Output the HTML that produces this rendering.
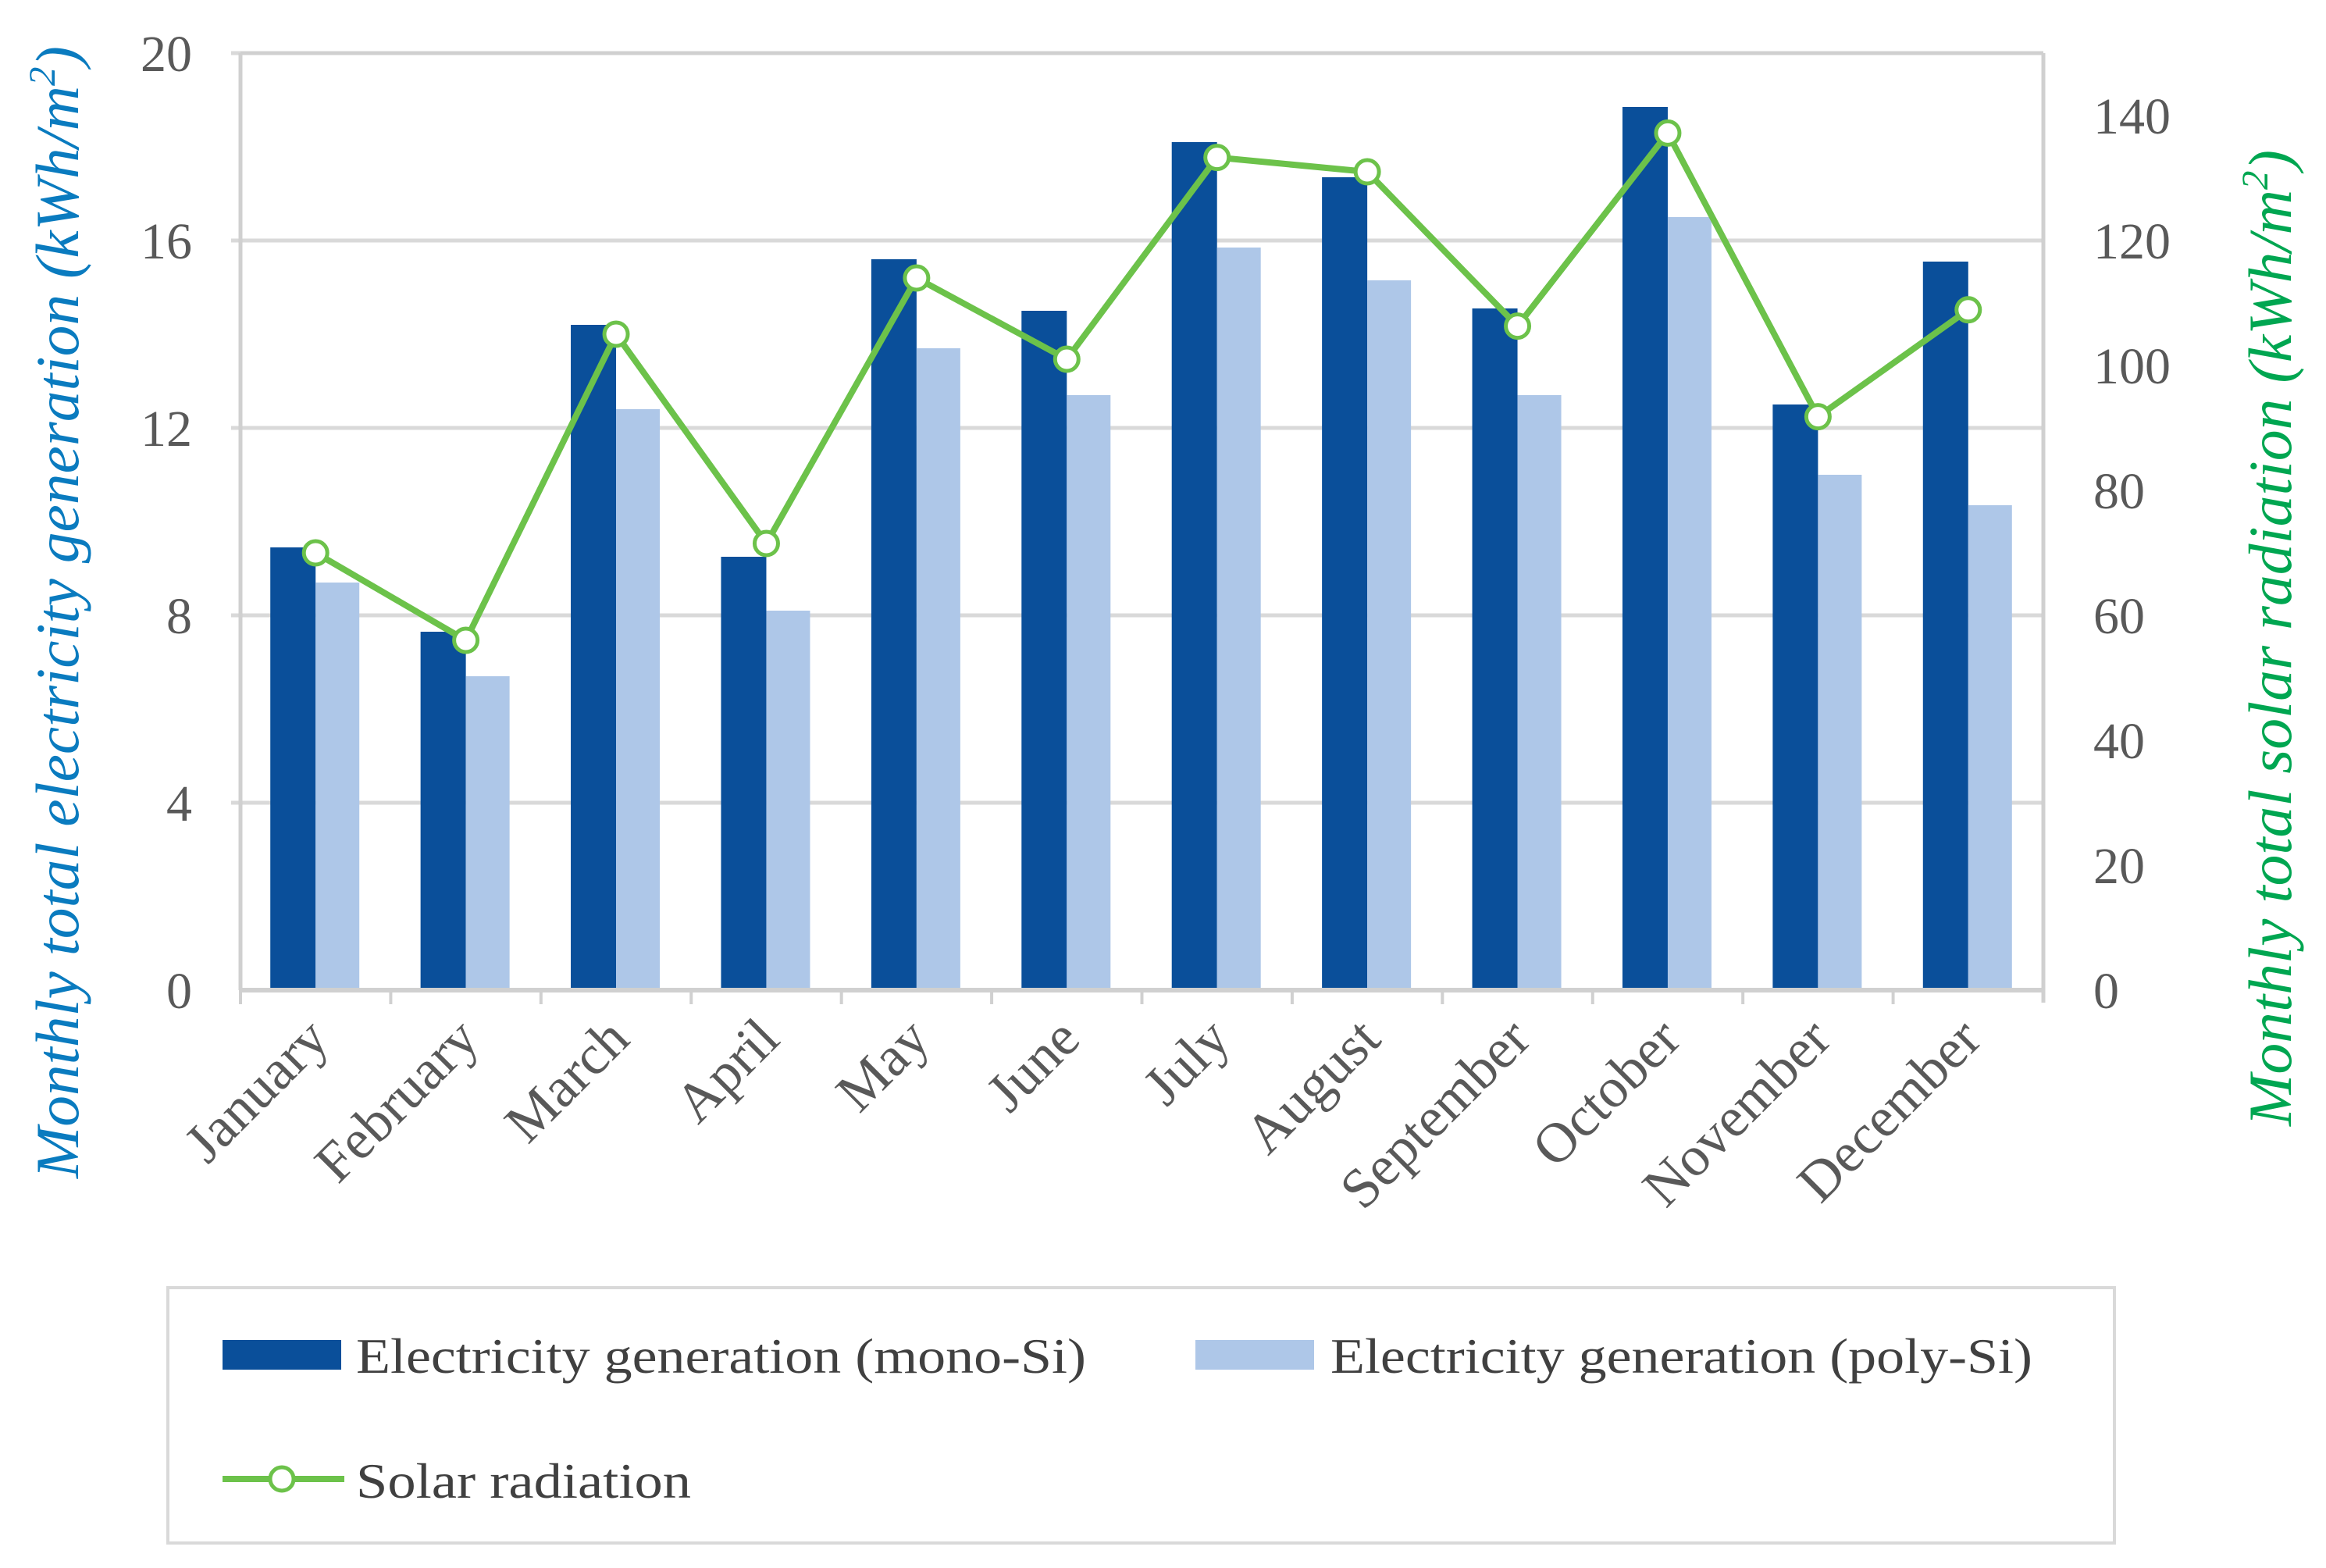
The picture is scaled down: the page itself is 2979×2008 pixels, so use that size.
<!DOCTYPE html>
<html><head><meta charset="utf-8"><style>
html,body{margin:0;padding:0;background:#fff;}
svg{display:block;}
</style></head><body>
<svg id="chart" width="2979" height="2008" viewBox="0 0 2979 2008" xmlns="http://www.w3.org/2000/svg">
<g id="grid"></g>
<g id="bars"></g>
<g id="axes"></g>
<g id="line"></g>
<g id="labels"></g>
<text transform="translate(100,784) rotate(-90)" text-anchor="middle" font-family="Liberation Serif, serif" font-style="italic" font-size="78" fill="#0A7BBF" textLength="1450" lengthAdjust="spacingAndGlyphs">Monthly total electricity generation (kWh/m<tspan font-size="48" dy="-30">2</tspan><tspan dy="30">)</tspan></text>
<text transform="translate(2934,817) rotate(-90)" text-anchor="middle" font-family="Liberation Serif, serif" font-style="italic" font-size="78" fill="#00A651" textLength="1250" lengthAdjust="spacingAndGlyphs">Monthly total solar radiation (kWh/m<tspan font-size="48" dy="-30">2</tspan><tspan dy="30">)</tspan></text>
<g>
<rect x="215" y="1649" width="2493" height="327" fill="#fff" stroke="#d9d9d9" stroke-width="4"/>
<rect x="285" y="1716" width="152" height="38" fill="#0A4F9A"/>
<text x="456" y="1758" font-family="Liberation Serif, serif" font-size="64" fill="#404040" textLength="935" lengthAdjust="spacingAndGlyphs">Electricity generation (mono-Si)</text>
<rect x="1531" y="1716" width="152" height="38" fill="#AEC7E8"/>
<text x="1704" y="1758" font-family="Liberation Serif, serif" font-size="64" fill="#404040" textLength="899" lengthAdjust="spacingAndGlyphs">Electricity generation (poly-Si)</text>
<line x1="285" y1="1894" x2="441" y2="1894" stroke="#6CC24A" stroke-width="8"/>
<circle cx="361" cy="1894" r="15" fill="#fff" stroke="#6CC24A" stroke-width="5"/>
<text x="456" y="1918" font-family="Liberation Serif, serif" font-size="64" fill="#404040" textLength="429" lengthAdjust="spacingAndGlyphs">Solar radiation</text>
</g>
</svg>
<script>
const months = ["January","February","March","April","May","June","July","August","September","October","November","December"];
const monoSi = [9.45,7.65,14.2,9.25,15.6,14.5,18.1,17.35,14.55,18.85,12.5,15.55];
const polySi = [8.7,6.7,12.4,8.1,13.7,12.7,15.85,15.15,12.7,16.5,11.0,10.35];
const solar = [70,56,105,71.5,114,101,133.3,131,106.3,137.2,91.8,108.9];
const leftTicks = [0,4,8,12,16,20];
const rightTicks = [0,20,40,60,80,100,120,140];

const NS="http://www.w3.org/2000/svg";
const PL=308,PR=2617,PT=68,PB=1268;
const yL=v=>PB-(v/20)*(PB-PT);
const yR=v=>PB-(v/150)*(PB-PT);
const bw=(PR-PL)/months.length;
const xC=i=>PL+bw*(i+0.5);
function mk(tag,attrs,parent){const e=document.createElementNS(NS,tag);for(const k in attrs)e.setAttribute(k,attrs[k]);parent.appendChild(e);return e;}
const gridG=document.getElementById('grid'),barsG=document.getElementById('bars'),axesG=document.getElementById('axes'),lineG=document.getElementById('line'),labelsG=document.getElementById('labels');

leftTicks.forEach(t=>{
  if(t>0){const g=mk('line',{x1:PL-12,x2:PR,y1:yL(t),y2:yL(t),stroke:'#d9d9d9','stroke-width':5},gridG);
  
  }
  const tx=mk('text',{x:246,y:yL(t)+23,'text-anchor':'end','font-family':'Liberation Serif, serif','font-size':66,fill:'#595959'},labelsG);
  tx.textContent=t;
  
  
});
rightTicks.forEach(t=>{
  const tx=mk('text',{x:2681,y:yR(t)+23,'font-family':'Liberation Serif, serif','font-size':66,fill:'#595959'},labelsG);
  tx.textContent=t;
  
  
});
const lv=mk('line',{x1:PL,x2:PL,y1:PT,y2:PB,stroke:'#d0d0d0','stroke-width':5},axesG);


const rv=mk('line',{x1:PR,x2:PR,y1:PT,y2:PB+16,stroke:'#d0d0d0','stroke-width':5},axesG);


months.forEach((m,i)=>{
  const x=xC(i);
  const b1=mk('rect',{x:x-58,y:yL(monoSi[i]),width:58,height:PB-yL(monoSi[i]),fill:'#0A4F9A'},barsG);
  
  
  const b2=mk('rect',{x:x,y:yL(polySi[i]),width:56,height:PB-yL(polySi[i]),fill:'#AEC7E8'},barsG);
  
  
  const tk=mk('line',{x1:PL+bw*i,x2:PL+bw*i,y1:PB,y2:PB+18,stroke:'#d0d0d0','stroke-width':4},axesG);
  
  
  const lb=mk('text',{transform:`translate(${x+20},${PB+66}) rotate(-45)`,'text-anchor':'end','font-family':'Liberation Serif, serif','font-size':72,fill:'#595959'},labelsG);
  lb.textContent=m;
  
  
});
const xa=mk('line',{x1:PL-2,x2:PR+2,y1:PB,y2:PB,stroke:'#d0d0d0','stroke-width':6},axesG);


const topBorder=mk('line',{x1:PL,x2:PR,y1:PT,y2:PT,stroke:'#d0d0d0','stroke-width':5},axesG);


const pts=solar.map((v,i)=>xC(i)+','+yR(v)).join(' ');
const pl=mk('polyline',{points:pts,fill:'none',stroke:'#6CC24A','stroke-width':8,'stroke-linejoin':'round'},lineG);


solar.forEach((v,i)=>{
  const c=mk('circle',{cx:xC(i),cy:yR(v),r:15,fill:'#fff',stroke:'#6CC24A','stroke-width':5},lineG);
  
  
});
</script>
</body></html>
